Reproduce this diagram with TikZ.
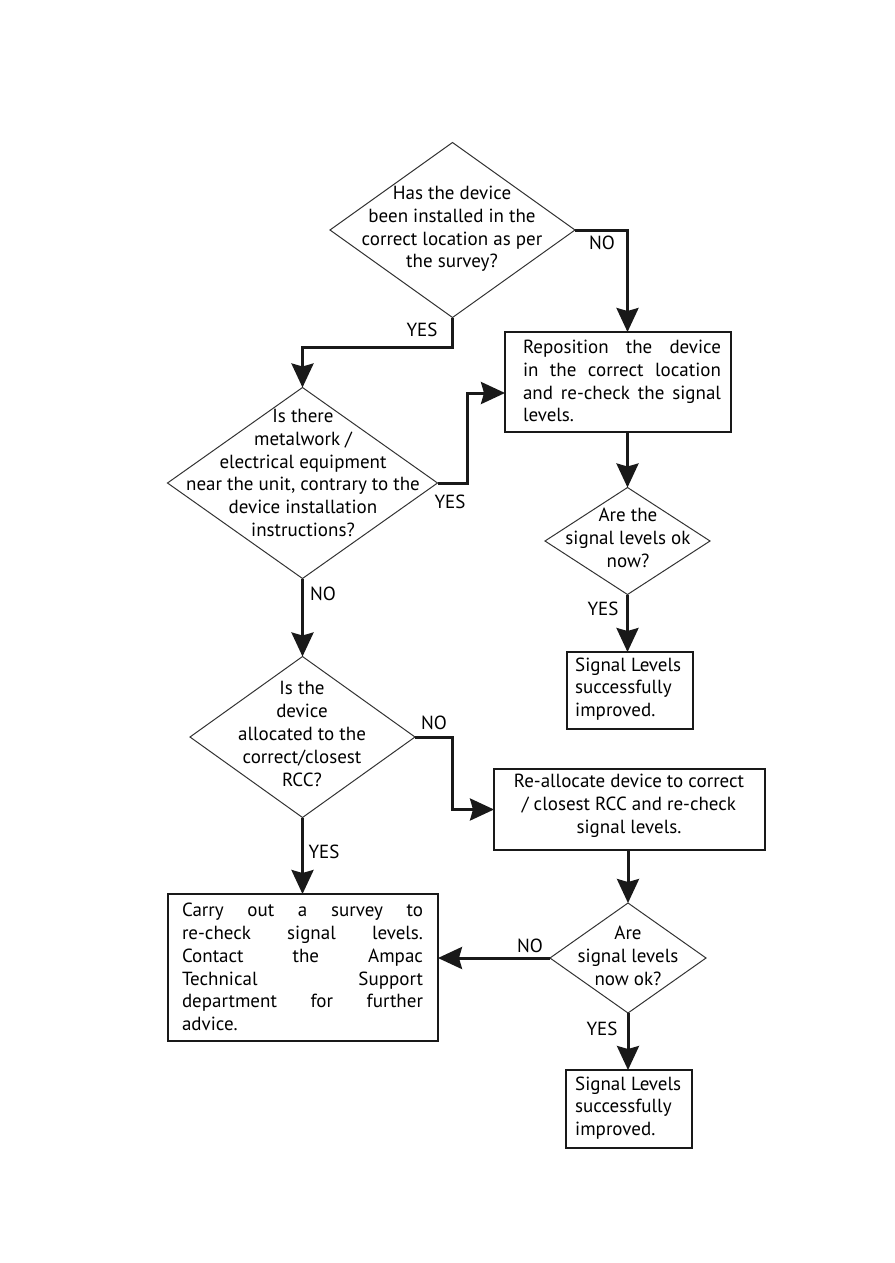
\documentclass[tikz,border=0pt]{standalone}
\usepackage{fontspec}
\setmainfont{PT Sans}
\usetikzlibrary{shapes.geometric,arrows.meta,calc}
\begin{document}
\begin{tikzpicture}[x=1pt,y=-1pt,
 dia/.style={draw=black!80,line width=1pt,shape=diamond,inner sep=0pt,outer sep=0pt},
 box/.style={draw=black!90,line width=1.4pt,inner sep=0pt,outer sep=0pt},
 txt/.style={font=\fontsize{19}{22.8}\selectfont,align=center,inner sep=0pt,text=black},
 lab/.style={font=\fontsize{19}{22.8}\selectfont,inner sep=0pt,text=black},
 conn/.style={line width=3pt,draw=black!90,-{Stealth[width=22pt,length=24pt,inset=3pt]}},
 ln/.style={line width=3pt,draw=black!90}
]
\useasboundingbox (0,0) rectangle (894,1263);
% diamonds
\node[dia,minimum width=245,minimum height=175] (d1) at (452.5,230) {};
\node[dia,minimum width=270,minimum height=191] (d2) at (302.5,483) {};
\node[dia,minimum width=225,minimum height=161] (d3) at (302.5,737) {};
\node[dia,minimum width=165,minimum height=107] (d4) at (627.5,541) {};
\node[dia,minimum width=156,minimum height=110] (d5) at (628,958) {};
% boxes
\node[box,minimum width=226,minimum height=100] (b1) at (618,382) {};
\node[box,minimum width=126,minimum height=77] (b2) at (630,690.5) {};
\node[box,minimum width=271,minimum height=81] (b3) at (629.5,809.5) {};
\node[box,minimum width=270,minimum height=147] (b4) at (303,967.5) {};
\node[box,minimum width=126,minimum height=78] (b5) at (629,1109) {};
% diamond texts
\node[txt] (t1) at (452,229) {Has the device\\been installed in the\\correct location as per\\the survey?};
\node[txt] (t2) at (303,473) {Is there\\metalwork /\\electrical equipment\\near the unit, contrary to the\\device installation\\instructions?};
\node[txt] (t3) at (302,734) {Is the\\device\\allocated to the\\correct/closest\\RCC?};
\node[txt] (t4) at (628,538) {Are the\\signal levels ok\\now?};
\node[txt] (t5) at (628,956) {Are\\signal levels\\now ok?};
% box texts
\node[txt,align=left] (tb1) at (622,381) {\makebox[198pt][s]{Reposition the device}\\\makebox[198pt][s]{in the correct location}\\\makebox[198pt][s]{and re-check the signal}\\levels.};
\node[txt,align=left,anchor=west] (tb2) at (575,689) {Signal Levels\\successfully\\improved.};
\node[txt] (tb3) at (629,806) {Re-allocate device to correct\\/ closest RCC and re-check\\signal levels.};
\node[txt,align=left] (tb4) at (302.5,967) {\makebox[241pt][s]{Carry out a survey to}\\\makebox[241pt][s]{re-check signal levels.}\\\makebox[241pt][s]{Contact the Ampac}\\\makebox[241pt][s]{Technical Support}\\\makebox[241pt][s]{department for further}\\advice.};
\node[txt,align=left,anchor=west] (tb5) at (575,1108) {Signal Levels\\successfully\\improved.};
% connectors
\draw[conn] (d1.east) -| (b1.north -| d4.north);
\draw[conn] (d1.south) -- ++(0,30) -| (d2.north);
\coordinate (b1w) at ([yshift=-11pt]b1.west);
\draw[conn] (d2.east) -- ++(30,0) |- (b1w);
\draw[conn] (d2.south) -- (d3.north);
\draw[conn] (b1.south -| d4.north) -- (d4.north);
\draw[conn] (d4.south) -- (d4.south |- b2.north);
\draw[conn] (d3.east) -- ++(37,0) |- (b3.west);
\draw[conn] (d3.south) -- (d3.south |- b4.north);
\draw[conn] (d5.north |- b3.south) -- (d5.north);
\draw[conn] (d5.west) -- (d5.west -| b4.east);
\draw[conn] (d5.south) -- (d5.south |- b5.north);
% labels
\node[lab] (l1) at (602,243) {NO};
\node[lab] (l2) at (422,330) {YES};
\node[lab] (l3) at (450,502) {YES};
\node[lab] (l4) at (323,594) {NO};
\node[lab] (l5) at (603,609) {YES};
\node[lab] (l6) at (434,723) {NO};
\node[lab] (l7) at (324,852) {YES};
\node[lab] (l8) at (530,946) {NO};
\node[lab] (l9) at (602,1029) {YES};
\end{tikzpicture}
\end{document}
